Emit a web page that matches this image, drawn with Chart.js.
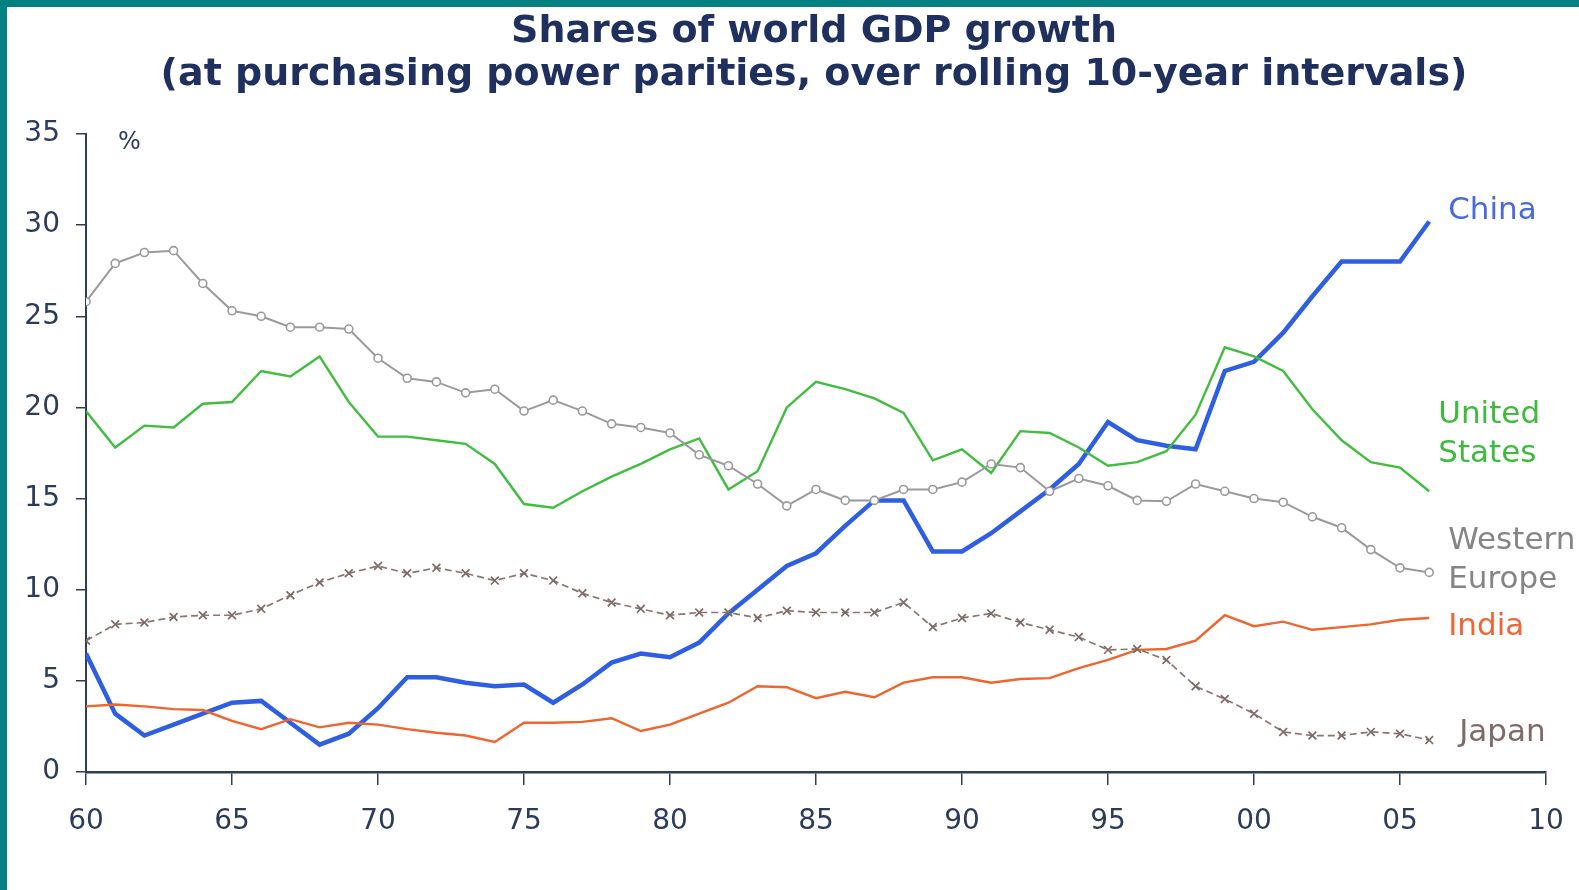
<!DOCTYPE html>
<html>
<head>
<meta charset="utf-8">
<title>Shares of world GDP growth</title>
<script src="https://cdn.jsdelivr.net/npm/chart.js@4.4.1/dist/chart.umd.min.js"></script>
<style>
    html, body { margin: 0; padding: 0; background: #ffffff; }
    #marco { position: relative; width: 1579px; height: 890px; overflow: hidden; }
    #grafico { position: absolute; left: 0; top: 0; }
    .borde-top { position: absolute; left: 0; top: 0; width: 1579px; height: 7px; background: #008080; }
    .borde-left { position: absolute; left: 0; top: 0; width: 7px; height: 890px; background: #008080; }
</style>
</head>
<body>
<div id="marco">
    <canvas id="grafico" width="1579" height="890"></canvas>
    <div class="borde-top"></div>
    <div class="borde-left"></div>
</div>
<script>
// --- Data (shares of world GDP growth, %) ---
const years = [];
for (let y = 1960; y <= 2006; y++) years.push(y);

const china = [6.5, 3.2, 2.0, 2.6, 3.2, 3.8, 3.9, 2.7, 1.5, 2.1,
    3.5, 5.2, 5.2, 4.9, 4.7, 4.8, 3.8, 4.8, 6.0, 6.5,
    6.3, 7.1, 8.7, 10.0, 11.3, 12.0, 13.5, 14.9, 14.9, 12.1,
    12.1, 13.1, 14.3, 15.5, 16.9, 19.2, 18.2, 17.9, 17.7, 22.0,
    22.5, 24.1, 26.1, 28.0, 28.0, 28.0, 30.2];

const unitedStates = [19.8, 17.8, 19.0, 18.9, 20.2, 20.3, 22.0, 21.7, 22.8, 20.3,
    18.4, 18.4, 18.2, 18.0, 16.9, 14.7, 14.5, 15.4, 16.2, 16.9,
    17.7, 18.3, 15.5, 16.5, 20.0, 21.4, 21.0, 20.5, 19.7, 17.1,
    17.7, 16.4, 18.7, 18.6, 17.8, 16.8, 17.0, 17.6, 19.6, 23.3,
    22.8, 22.0, 19.9, 18.2, 17.0, 16.7, 15.4];

const westernEurope = [25.8, 27.9, 28.5, 28.6, 26.8, 25.3, 25.0, 24.4, 24.4, 24.3,
    22.7, 21.6, 21.4, 20.8, 21.0, 19.8, 20.4, 19.8, 19.1, 18.9,
    18.6, 17.4, 16.8, 15.8, 14.6, 15.5, 14.9, 14.9, 15.5, 15.5,
    15.9, 16.9, 16.7, 15.4, 16.1, 15.7, 14.9, 14.85, 15.8, 15.4,
    15.0, 14.8, 14.0, 13.4, 12.2, 11.2, 10.95];

const india = [3.6, 3.7, 3.6, 3.45, 3.4, 2.8, 2.35, 2.9, 2.45, 2.7,
    2.6, 2.35, 2.15, 2.0, 1.65, 2.7, 2.7, 2.75, 2.95, 2.25,
    2.6, 3.2, 3.8, 4.7, 4.65, 4.05, 4.4, 4.1, 4.9, 5.2,
    5.2, 4.9, 5.1, 5.15, 5.7, 6.15, 6.7, 6.75, 7.2, 8.6,
    8.0, 8.25, 7.8, 7.95, 8.1, 8.35, 8.45];

const japan = [7.2, 8.1, 8.2, 8.5, 8.6, 8.6, 8.95, 9.7, 10.4, 10.9,
    11.3, 10.9, 11.2, 10.9, 10.5, 10.9, 10.5, 9.8, 9.3, 8.95,
    8.6, 8.75, 8.75, 8.45, 8.85, 8.75, 8.75, 8.75, 9.3, 7.95,
    8.45, 8.7, 8.2, 7.8, 7.4, 6.7, 6.75, 6.15, 4.7, 4.0,
    3.2, 2.2, 2.0, 2.0, 2.2, 2.1, 1.75];

const xTickYears = [1960, 1965, 1970, 1975, 1980, 1985, 1990, 1995, 2000, 2005, 2010];
const yTicks = [0, 5, 10, 15, 20, 25, 30, 35];

const titleLines = ['Shares of world GDP growth',
    '(at purchasing power parities, over rolling 10-year intervals)'];

document.addEventListener('DOMContentLoaded', function() {

    const ctx = document.getElementById('grafico').getContext('2d');
    const toPoints = vals => vals.map((v, i) => ({ x: years[i], y: v }));
    const inkColor = '#2c3b5a';

    // --- Title, unit and end-of-line labels ---
    const textPlugin = {
        id: 'textos',
        afterDraw(chart) {
            const c = chart.ctx;
            const xs = chart.scales.x, ys = chart.scales.y;
            c.save();
            c.fillStyle = '#1f2f5e';
            c.font = 'bold 38px "DejaVu Sans", Verdana, sans-serif';
            c.textAlign = 'center';
            c.textBaseline = 'middle';
            c.fillText(titleLines[0], 814, 32);
            c.fillText(titleLines[1], 814, 75);

            c.font = '24px "DejaVu Sans", Verdana, sans-serif';
            c.fillStyle = inkColor;
            c.textAlign = 'left';
            c.fillText('%', 118, 143);

            // labels placed next to the last data point of each series
            const labels = [
                { lines: ['China'], color: '#4a6bd8', yr: 2006, val: 30.2, dx: 19, dy: -11 },
                { lines: ['United', 'States'], color: '#3dbb3d', yr: 2006, val: 15.4, dx: 9, dy: -76 },
                { lines: ['Western', 'Europe'], color: '#858585', yr: 2006, val: 10.95, dx: 19, dy: -31 },
                { lines: ['India'], color: '#f06535', yr: 2006, val: 8.45, dx: 19, dy: 9 },
                { lines: ['Japan'], color: '#7e6a66', yr: 2006, val: 1.75, dx: 30, dy: -7 }
            ];
            c.font = '31px "DejaVu Sans", Verdana, sans-serif';
            labels.forEach(l => {
                const px = xs.getPixelForValue(l.yr) + l.dx;
                const py = ys.getPixelForValue(l.val) + l.dy;
                c.fillStyle = l.color;
                l.lines.forEach((t, i) => c.fillText(t, px, py + i * 39));
            });
            c.restore();
        }
    };

    new Chart(ctx, {
        type: 'line',
        data: {
            datasets: [
                {
                    label: 'Western Europe',
                    data: toPoints(westernEurope),
                    borderColor: '#9a9a9a',
                    borderWidth: 2,
                    pointStyle: 'circle',
                    pointRadius: 4,
                    pointBorderWidth: 1.6,
                    pointBackgroundColor: '#ffffff',
                    pointBorderColor: '#9a9a9a'
                },
                {
                    label: 'Japan',
                    data: toPoints(japan),
                    borderColor: '#8b7570',
                    borderWidth: 1.7,
                    borderDash: [7, 4],
                    pointStyle: 'crossRot',
                    pointRadius: 5.5,
                    pointBorderWidth: 1.7,
                    pointBorderColor: '#7e6a66'
                },
                {
                    label: 'India',
                    data: toPoints(india),
                    borderColor: '#f0652e',
                    borderWidth: 2.4,
                    pointRadius: 0
                },
                {
                    label: 'United States',
                    data: toPoints(unitedStates),
                    borderColor: '#41bd3f',
                    borderWidth: 2.4,
                    pointRadius: 0
                },
                {
                    label: 'China',
                    data: toPoints(china),
                    borderColor: '#2e5fe3',
                    borderWidth: 4.5,
                    pointRadius: 0
                }
            ]
        },
        options: {
            responsive: false,
            animation: false,
            events: [],
            layout: { padding: { top: 134, right: 33, bottom: 0, left: 0 } },
            plugins: {
                legend: { display: false },
                title: { display: false },
                tooltip: { enabled: false }
            },
            elements: { line: { tension: 0 } },
            scales: {
                x: {
                    type: 'linear',
                    min: 1960,
                    max: 2010,
                    afterFit: s => { s.height = 118; s.paddingRight = 0; s.paddingLeft = 0; },
                    afterBuildTicks: s => { s.ticks = xTickYears.map(v => ({ value: v })); },
                    ticks: {
                        color: inkColor,
                        padding: 20,
                        maxRotation: 0,
                        font: { family: '"DejaVu Sans", Verdana, sans-serif', size: 28 },
                        callback: v => String(v % 100).padStart(2, '0')
                    },
                    grid: { drawOnChartArea: false, drawTicks: true, tickLength: 13, color: '#2f3d55', lineWidth: 1.5 },
                    border: { display: true, color: '#2f3d55', width: 2.5 }
                },
                y: {
                    min: 0,
                    max: 35,
                    afterFit: s => { s.width = 86; s.paddingTop = 0; s.paddingBottom = 0; },
                    afterBuildTicks: s => { s.ticks = yTicks.map(v => ({ value: v })); },
                    ticks: {
                        color: inkColor,
                        padding: 16,
                        font: { family: '"DejaVu Sans", Verdana, sans-serif', size: 28 }
                    },
                    grid: { drawOnChartArea: false, drawTicks: true, tickLength: 10, color: '#2f3d55', lineWidth: 1.5 },
                    border: { display: true, color: '#2f3d55', width: 2 }
                }
            }
        },
        plugins: [textPlugin]
    });
});
</script>
</body>
</html>
